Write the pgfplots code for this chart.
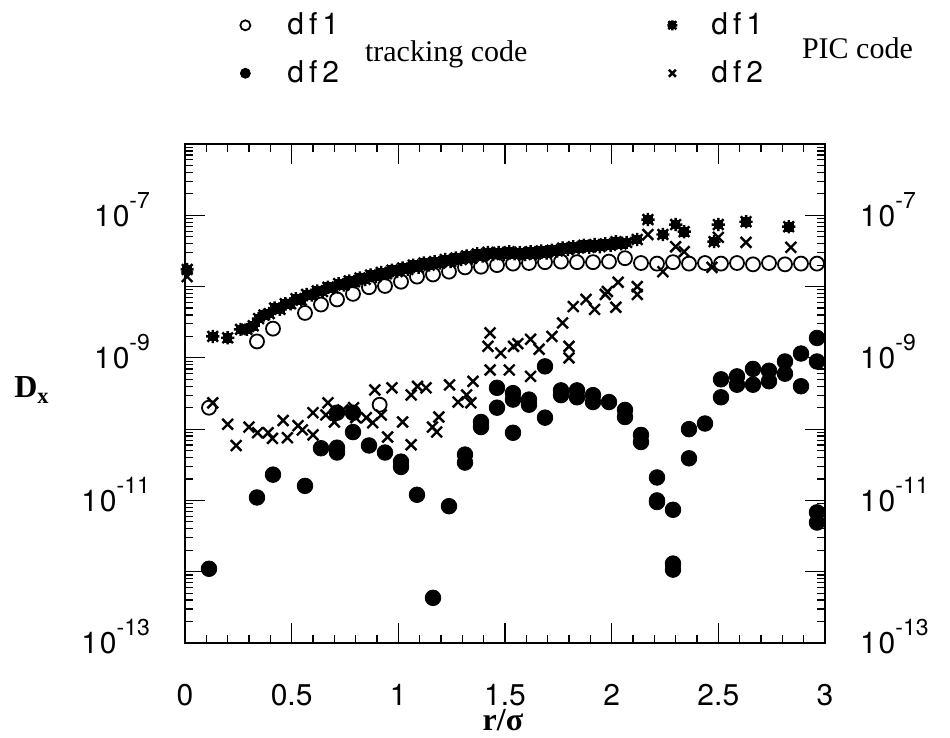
\documentclass[border=0pt]{standalone}
\usepackage{fontspec}
\setmainfont{Liberation Serif}
\newfontfamily\hv{TeX Gyre Heros}
\usepackage{pgfplots}
\pgfplotsset{compat=1.18}
\pgfdeclareplotmark{sqstar}{%
  \pgfpathrectangle{\pgfpoint{-0.55\pgfplotmarksize}{-0.55\pgfplotmarksize}}{\pgfpoint{1.1\pgfplotmarksize}{1.1\pgfplotmarksize}}%
  \pgfusepathqfillstroke
  \pgfpathmoveto{\pgfpoint{-\pgfplotmarksize}{0pt}}\pgfpathlineto{\pgfpoint{\pgfplotmarksize}{0pt}}%
  \pgfpathmoveto{\pgfpoint{0pt}{-\pgfplotmarksize}}\pgfpathlineto{\pgfpoint{0pt}{\pgfplotmarksize}}%
  \pgfpathmoveto{\pgfpoint{-0.8\pgfplotmarksize}{-0.8\pgfplotmarksize}}\pgfpathlineto{\pgfpoint{0.8\pgfplotmarksize}{0.8\pgfplotmarksize}}%
  \pgfpathmoveto{\pgfpoint{-0.8\pgfplotmarksize}{0.8\pgfplotmarksize}}\pgfpathlineto{\pgfpoint{0.8\pgfplotmarksize}{-0.8\pgfplotmarksize}}%
  \pgfusepathqstroke}
\newcommand{\ylab}[1]{1\kern1pt0\raisebox{9pt}{\fontsize{11.5}{11.5}\selectfont -#1}}
\begin{document}
\begin{tikzpicture}
\begin{axis}[
  ymode=log,
  at={(0,0)}, anchor=south west,
  width=320pt, height=249.5pt, scale only axis,
  xmin=0, xmax=3, ymin=1e-13, ymax=1e-6,
  ytick={1e-13,1e-12,1e-11,1e-10,1e-9,1e-8,1e-7,1e-6},
  yticklabels={\ylab{13},,\ylab{11},,\ylab{9},,\ylab{7},},
  clip=false,
  legend image post style={mark size=2.5pt},
  xtick={0,0.5,1,1.5,2,2.5,3},
  xticklabels={0,0.5,1,1.5,2,2.5,3},
  minor x tick num=4,
  major tick length=10pt, minor tick length=4pt,
  axis line style={line width=1pt},
  every tick/.style={black, line width=0.6pt},
  xticklabel style={font=\hv\fontsize{15}{18}\selectfont, yshift=-17pt},
  yticklabel style={font=\hv\fontsize{15}{18}\selectfont, anchor=base east, xshift=-14pt, yshift=-5.4pt},
  legend style={at={(0.0859,1.2717)}, anchor=north west, draw=none, fill=none, inner sep=0pt,
    font=\hv\fontsize{15}{18}\selectfont, row sep=7.5pt,
    /tikz/every odd column/.append style={column sep=16.5pt}},
]
% tracking code df1
\addplot[only marks, mark=o, mark size=3.5pt, line width=0.9pt, black] table {
x y
0.1125 2.0e-10
0.3375 1.7e-9
0.4125 2.57e-9
0.5625 4.27e-9
0.6375 5.6e-9
0.7125 6.6e-9
0.7875 7.9e-9
0.8625 9.8e-9
0.9125 2.2e-10
0.9375 1.02e-8
1.0125 1.17e-8
1.0875 1.38e-8
1.1625 1.48e-8
1.2375 1.62e-8
1.3125 1.86e-8
1.3875 1.9e-8
1.4625 2.0e-8
1.5375 2.1e-8
1.6125 2.14e-8
1.6875 2.2e-8
1.7625 2.24e-8
1.8375 2.2e-8
1.9125 2.2e-8
1.9875 2.24e-8
2.0625 2.5e-8
2.1375 2.14e-8
2.2125 2.1e-8
2.2875 2.2e-8
2.3625 2.1e-8
2.4375 2.14e-8
2.5125 2.1e-8
2.5875 2.14e-8
2.6625 2.05e-8
2.7375 2.14e-8
2.8125 2.05e-8
2.8875 2.1e-8
2.9625 2.1e-8
};
\addlegendentry{d\,f\,1}
% tracking code df2
\addplot[only marks, mark=*, mark size=3.9pt, black] table {
x y
0.1125 1.1e-12
0.3375 1.1e-11
0.4125 2.3e-11
0.5625 1.6e-11
0.6375 5.4e-11
0.7125 5.5e-11
0.7125 4.7e-11
0.7125 1.7e-10
0.7875 9.1e-11
0.7875 1.7e-10
0.8625 5.9e-11
0.9375 4.7e-11
1.0125 2.95e-11
1.0125 3.5e-11
1.0875 1.2e-11
1.1625 4.3e-13
1.2375 8.3e-12
1.3125 4.4e-11
1.3125 3.4e-11
1.3875 1.26e-10
1.3875 1.07e-10
1.4625 3.8e-10
1.4625 2.0e-10
1.5375 3.2e-10
1.5375 2.6e-10
1.5375 8.9e-11
1.6125 2.6e-10
1.6125 2.2e-10
1.6875 1.45e-10
1.6875 7.6e-10
1.7625 3.5e-10
1.7625 3.0e-10
1.8375 3.5e-10
1.8375 2.8e-10
1.9125 3.0e-10
1.9125 2.4e-10
1.9875 2.4e-10
2.0625 1.86e-10
2.0625 1.48e-10
2.1375 8.3e-11
2.1375 6.6e-11
2.2125 2.1e-11
2.2125 1.0e-11
2.2125 9.5e-12
2.2875 7.4e-12
2.2875 1.3e-12
2.2875 1.07e-12
2.3625 1.0e-10
2.3625 3.9e-11
2.4375 1.2e-10
2.5125 5.0e-10
2.5125 2.8e-10
2.5875 5.5e-10
2.5875 4.2e-10
2.6625 7.0e-10
2.6625 4.2e-10
2.7375 6.6e-10
2.7375 4.7e-10
2.8125 8.9e-10
2.8125 6.0e-10
2.8875 1.15e-9
2.8875 4.0e-10
2.9625 1.9e-9
2.9625 8.9e-10
2.9625 6.8e-12
2.9625 4.9e-12
};
\addlegendentry{d\,f\,2}
\end{axis}
\begin{axis}[
  ymode=log,
  at={(0,0)}, anchor=south west,
  width=320pt, height=249.5pt, scale only axis,
  xmin=0, xmax=3, ymin=1e-13, ymax=1e-6,
  ytick={1e-13,1e-12,1e-11,1e-10,1e-9,1e-8,1e-7,1e-6},
  yticklabels={\ylab{13},,\ylab{11},,\ylab{9},,\ylab{7},},
  clip=false,
  legend image post style={mark size=2.5pt},
  hide x axis,
  axis line style={draw=none}, tick style={draw=none},
  yticklabel pos=right,
  yticklabel style={font=\hv\fontsize{15}{18}\selectfont, anchor=base west, xshift=14pt, yshift=-5.4pt},
  legend style={at={(0.7531,1.2717)}, anchor=north west, draw=none, fill=none, inner sep=0pt,
    font=\hv\fontsize{15}{18}\selectfont, row sep=7.5pt,
    /tikz/every odd column/.append style={column sep=15pt}},
]
% PIC code df1
\addplot[only marks, mark=sqstar, mark size=3.3pt, line width=1.2pt, black] table {
x y
0.01 1.74e-8
0.13 2.0e-9
0.20 1.91e-9
0.26 2.51e-9
0.29 2.51e-9
0.320 2.82e-9
0.345 3.55e-9
0.370 3.98e-9
0.395 4.17e-9
0.420 5.01e-9
0.445 4.79e-9
0.470 5.75e-9
0.495 5.75e-9
0.520 6.76e-9
0.545 6.46e-9
0.570 7.76e-9
0.595 7.59e-9
0.620 8.71e-9
0.645 8.51e-9
0.670 9.77e-9
0.695 9.55e-9
0.720 1.10e-8
0.745 1.05e-8
0.770 1.20e-8
0.795 1.17e-8
0.820 1.32e-8
0.845 1.26e-8
0.870 1.45e-8
0.895 1.38e-8
0.920 1.58e-8
0.945 1.51e-8
0.970 1.70e-8
0.995 1.62e-8
1.020 1.82e-8
1.045 1.74e-8
1.070 2.00e-8
1.095 1.86e-8
1.120 2.14e-8
1.145 2.00e-8
1.170 2.24e-8
1.195 2.14e-8
1.220 2.40e-8
1.245 2.24e-8
1.270 2.51e-8
1.295 2.40e-8
1.320 2.69e-8
1.345 2.51e-8
1.370 2.88e-8
1.395 2.69e-8
1.420 3.02e-8
1.445 2.82e-8
1.470 3.02e-8
1.495 2.82e-8
1.520 3.09e-8
1.545 2.88e-8
1.570 3.02e-8
1.595 2.82e-8
1.620 3.09e-8
1.645 2.88e-8
1.670 3.16e-8
1.695 2.95e-8
1.720 3.24e-8
1.745 3.16e-8
1.770 3.47e-8
1.795 3.31e-8
1.820 3.63e-8
1.845 3.47e-8
1.870 3.80e-8
1.895 3.55e-8
1.920 3.89e-8
1.945 3.63e-8
1.970 3.98e-8
1.995 3.80e-8
2.020 4.27e-8
2.045 3.98e-8
2.070 4.17e-8
2.120 4.57e-8
2.17 8.71e-8
2.24 5.37e-8
2.30 7.41e-8
2.34 5.89e-8
2.48 4.27e-8
2.50 7.41e-8
2.63 8.13e-8
2.83 6.92e-8
};
\addlegendentry{d\,f\,1}
% PIC code df2
\addplot[only marks, mark=x, mark size=3.8pt, line width=1.2pt, black] table {
x y
0.01 1.38e-8
0.13 2.34e-10
0.20 1.17e-10
0.24 5.89e-11
0.30 1.07e-10
0.34 8.91e-11
0.39 8.91e-11
0.41 7.41e-11
0.46 1.32e-10
0.48 7.59e-11
0.53 1.12e-10
0.55 9.77e-11
0.60 8.32e-11
0.60 1.70e-10
0.66 1.58e-10
0.67 2.34e-10
0.70 1.26e-10
0.74 1.86e-10
0.79 2.0e-10
0.80 1.45e-10
0.85 1.45e-10
0.88 1.23e-10
0.89 3.55e-10
0.92 1.58e-10
0.95 7.76e-11
0.97 3.80e-10
1.02 1.26e-10
1.06 6.03e-11
1.06 3.02e-10
1.09 3.98e-10
1.13 3.80e-10
1.16 1.07e-10
1.18 9.12e-11
1.19 1.48e-10
1.24 4.17e-10
1.28 2.40e-10
1.32 3.02e-10
1.34 2.34e-10
1.35 4.68e-10
1.42 1.45e-9
1.43 2.24e-9
1.43 6.76e-10
1.48 1.17e-9
1.52 6.76e-10
1.54 1.45e-9
1.56 1.58e-9
1.62 1.82e-9
1.62 5.50e-10
1.66 1.32e-9
1.72 2.0e-9
1.77 3.09e-9
1.80 1.45e-9
1.80 1.0e-9
1.82 5.25e-9
1.88 6.61e-9
1.92 4.79e-9
1.97 7.76e-9
1.98 8.51e-9
2.02 5.13e-9
2.03 1.15e-8
2.12 1.0e-8
2.12 7.76e-9
2.17 5.37e-8
2.24 1.62e-8
2.30 3.63e-8
2.34 3.09e-8
2.47 1.86e-8
2.50 4.90e-8
2.63 4.17e-8
2.84 3.55e-8
};
\addlegendentry{d\,f\,2}
\end{axis}
\node[anchor=base west, font=\fontsize{15}{18}\selectfont] at (86.5pt,290.5pt) {tracking code};
\node[anchor=base west, font=\fontsize{15}{18}\selectfont] at (305pt,292pt) {PIC code};
\node[font=\fontsize{16}{18}\selectfont] at (-76.5pt,126.5pt) {\textbf{D}\textsubscript{\textbf{x}}};
\node[font=\fontsize{16}{18}\selectfont\bfseries] at (159pt,-38.5pt) {r/σ};
\pgfresetboundingbox
\useasboundingbox (-92.5pt,-47.5pt) rectangle (382.5pt,321.5pt);
\end{tikzpicture}
\end{document}
